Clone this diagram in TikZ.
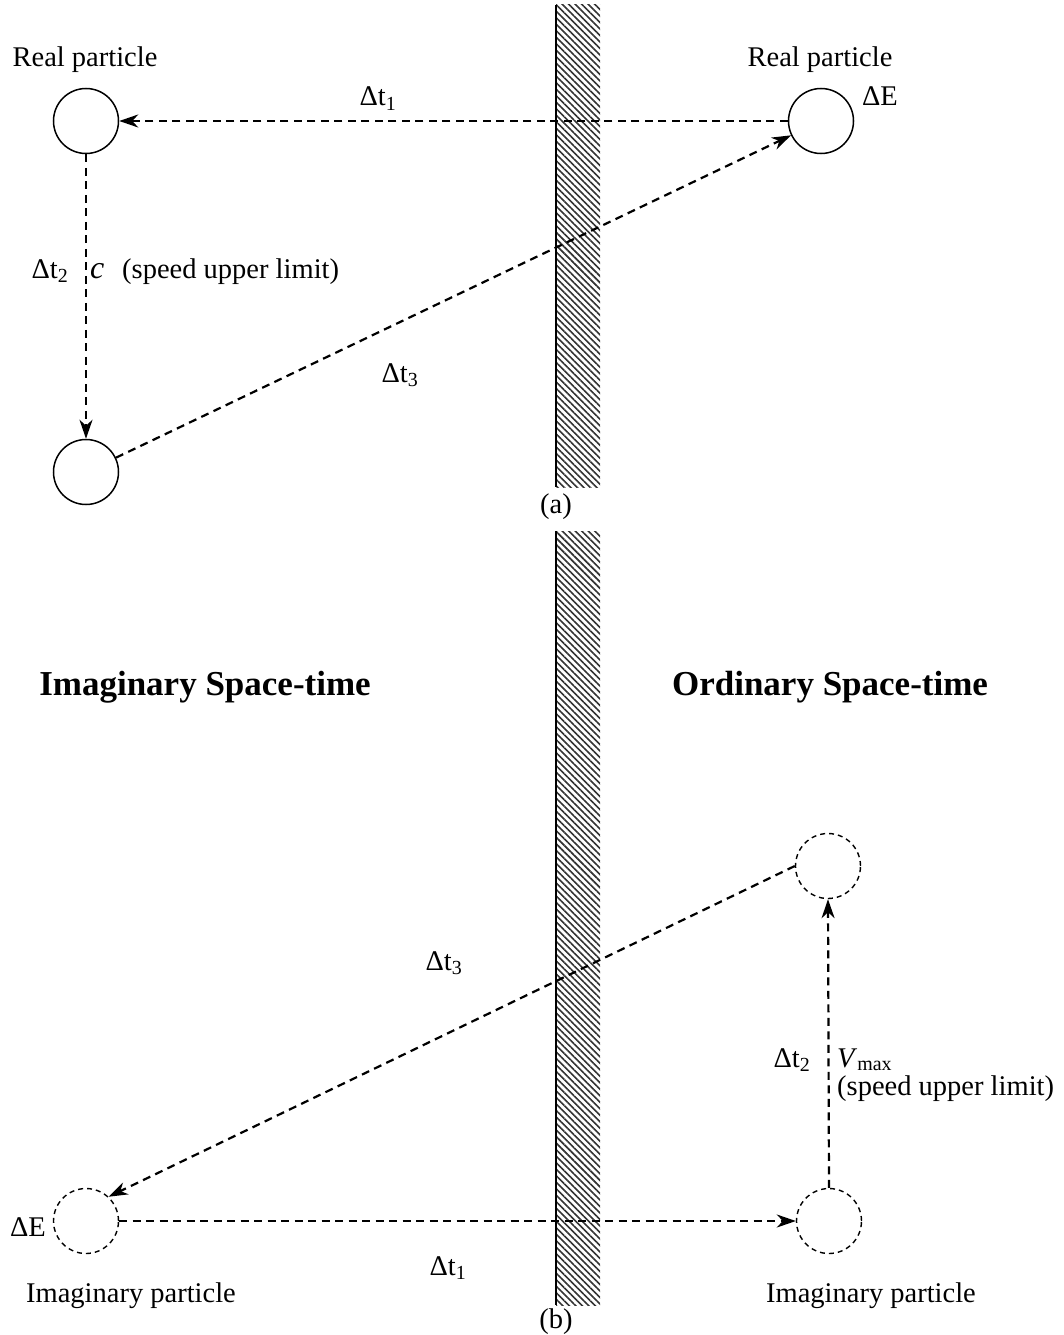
\documentclass[tikz,border=0pt]{standalone}
\usepackage{fontspec}
\setmainfont{Liberation Serif}
\usetikzlibrary{arrows.meta,patterns.meta}

\tikzset{
  particle/.style={draw, circle, line width=1.5pt, minimum size=65pt, inner sep=0pt},
  ghost/.style={particle, line width=1.4pt, dash pattern=on 5pt off 4pt},
  flow/.style={->, line width=2.2pt, dash pattern=on 8pt off 5.5pt},
  lbl/.style={inner sep=0pt, anchor=base},
  wall/.style={pattern={Lines[angle=-45,distance=4.6pt,line width=1.6pt]}, pattern color=black!80},
}

\begin{document}
\begin{tikzpicture}[x=1pt, y=1pt, >={Stealth[length=19pt,width=13pt,inset=6pt]},
    font=\fontsize{28.5}{30}\selectfont]
  \useasboundingbox (0,0) rectangle (1064,-1335);

  % the barrier
  \fill[wall] (556,-5) rectangle (600,-487);
  \fill[wall] (556,-531) rectangle (600,-1305);
  \draw[line width=2.5pt] (556,-5) -- (556,-487);
  \draw[line width=2.5pt] (556,-531) -- (556,-1305);

  % (a) real particle
  \node[particle] (ra) at (86,-121) {};
  \node[particle] (rb) at (821,-121) {};
  \node[particle] (rc) at (86,-472) {};

  \draw[flow] (rb.west) -- (ra.east);
  \draw[flow] (ra.south) -- (rc.north);
  \draw[flow] (rc) -- (rb);

  \node[lbl] (ta) at (85,-67) {Real particle};
  \node[lbl] (tb) at (820,-67) {Real particle};
  \node[lbl] (ea) at (880,-106) {ΔE};
  \node[lbl] (d1a) at (378,-106) {Δt\textsubscript{1}};
  \node[lbl] (d2a) at (50,-278) {Δt\textsubscript{2}};
  \node[lbl, anchor=base west] (ca) at (90,-278) {\fontsize{32}{34}\selectfont\textit{c}};
  \node[lbl, anchor=base west] (sa) at (122,-278) {(speed upper limit)};
  \node[lbl] (d3a) at (400,-382) {Δt\textsubscript{3}};
  \node[lbl] (capa) at (556,-513) {(a)};

  % (b) imaginary particle
  \node[lbl] (imag) at (205,-695) {\fontsize{35}{40}\selectfont\bfseries Imaginary Space-time};
  \node[lbl] (ord) at (830,-695) {\fontsize{35}{40}\selectfont\bfseries Ordinary Space-time};

  \node[ghost] (ia) at (86,-1221) {};
  \node[ghost] (ib) at (828,-866) {};
  \node[ghost] (ic) at (829,-1221) {};

  \draw[flow] (ia.east) -- (ic.west);
  \draw[flow] (ic.north) -- (ib.south);
  \draw[flow] (ib.west) -- (ia.47);

  \node[lbl] (d3b) at (444,-970) {Δt\textsubscript{3}};
  \node[lbl] (d2b) at (792,-1067) {Δt\textsubscript{2}};
  \node[lbl, anchor=base west] (vb) at (837,-1067) {\textit{V}\textsubscript{max}};
  \node[lbl, anchor=base west] (sb) at (837,-1095) {(speed upper limit)};
  \node[lbl] (eb) at (28,-1236) {ΔE};
  \node[lbl] (d1b) at (448,-1275) {Δt\textsubscript{1}};
  \node[lbl] (pa) at (131,-1302) {Imaginary particle};
  \node[lbl] (pb) at (871,-1302) {Imaginary particle};
  \node[lbl] (capb) at (556,-1328) {(b)};
\end{tikzpicture}
\end{document}
